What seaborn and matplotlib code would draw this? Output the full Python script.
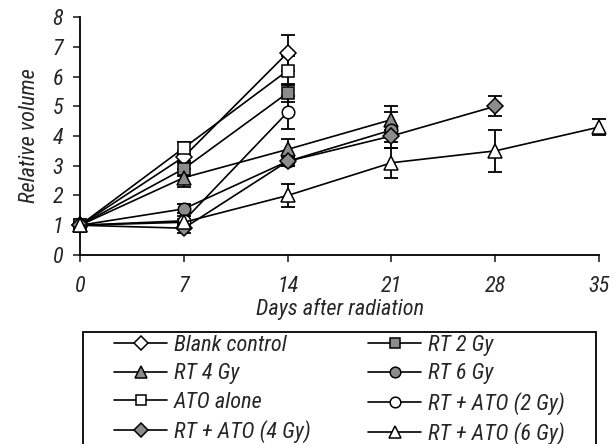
import numpy as np
import pandas as pd
from matplotlib import pyplot as plt
from matplotlib.patches import Rectangle
import seaborn as sns

# 数据：各组肿瘤相对体积（均值与误差）
labels = ['Blank control', 'RT 2 Gy', 'RT 4 Gy', 'RT 6 Gy',
          'ATO alone', 'RT + ATO (2 Gy)', 'RT + ATO (4 Gy)', 'RT + ATO (6 Gy)']
days = [
    [0, 7, 14],
    [0, 7, 14],
    [0, 7, 14, 21],
    [0, 7, 14, 21],
    [0, 7, 14],
    [0, 7, 14],
    [0, 7, 14, 21, 28],
    [0, 7, 14, 21, 28, 35],
]
values = [
    [1, 3.3, 6.8],
    [1, 2.9, 5.45],
    [1, 2.6, 3.55, 4.55],
    [1, 1.55, 3.15, 4.2],
    [1, 3.6, 6.2],
    [1, 1.15, 4.8],
    [1, 0.9, 3.15, 4.0, 5.0],
    [1, 1.1, 2.0, 3.1, 3.5, 4.3],
]
errors = [
    [0.05, 0.2, 0.6],
    [0.05, 0.25, 0.3],
    [0.05, 0.3, 0.35, 0.45],
    [0.05, 0.15, 0.15, 0.6],
    [0.05, 0.2, 0.5],
    [0.05, 0.15, 0.55],
    [0.05, 0.15, 0.15, 0.2, 0.33],
    [0.05, 0.1, 0.4, 0.5, 0.7, 0.27],
]
markers = ['D', 's', '^', 'o', 's', 'o', 'D', '^']
fills = ['white', '#8c8c8c', '#8c8c8c', '#8c8c8c', 'white', 'white', '#8c8c8c', 'white']
sizes = [8, 8.5, 9.5, 9, 9, 9, 8, 10]

sns.set_style('ticks')
plt.rcParams['font.family'] = ['Roboto Condensed', 'DejaVu Sans']
plt.rcParams['font.style'] = 'italic'

fig = plt.figure(figsize=(6.12, 4.44), dpi=100)
ax = fig.add_axes([0.1307, 0.4257, 0.8483, 0.536])

handles = {}
for i, lab in enumerate(labels):
    df = pd.DataFrame({'day': days[i], 'vol': values[i]})
    eb = ax.errorbar(df['day'], df['vol'], yerr=errors[i], fmt='none', ecolor='black',
                     elinewidth=1.3, capsize=5, capthick=1.3, zorder=2)
    for art in eb.lines[1] + eb.lines[2]:
        art.set_clip_on(False)
    sns.lineplot(data=df, x='day', y='vol', ax=ax, color='black', lw=1.2,
                 marker=markers[i], markersize=sizes[i], markerfacecolor=fills[i],
                 markeredgecolor='black', markeredgewidth=1.1, zorder=3 + i,
                 label=lab, legend=False, clip_on=False)
    handles[lab] = ax.lines[-1]

ax.set_xlim(0, 35)
ax.set_ylim(0, 8)
ax.set_xticks(range(0, 36, 7))
ax.set_yticks(range(0, 9))
ax.tick_params(labelsize=16, length=5, width=1.2, direction='out')
ax.tick_params(axis='x', pad=10)
ax.tick_params(axis='y', pad=7)
for s in ['left', 'bottom']:
    ax.spines[s].set_linewidth(1.3)
    ax.spines[s].set_color('black')
sns.despine(ax=ax)
ax.set_xlabel('Days after radiation', fontsize=16, labelpad=1)
ax.set_ylabel('Relative volume', fontsize=16, labelpad=9)

# 图例：两列分开放置，外框单独画
col1 = ['Blank control', 'RT 4 Gy', 'ATO alone', 'RT + ATO (4 Gy)']
col2 = ['RT 2 Gy', 'RT 6 Gy', 'RT + ATO (2 Gy)', 'RT + ATO (6 Gy)']
for names, x0 in [(col1, 114), (col2, 368)]:
    fig.legend([handles[k] for k in names], names, loc='upper left',
               bbox_to_anchor=(x0 / 612, 1 - 335 / 444), bbox_transform=fig.transFigure,
               borderaxespad=0, borderpad=0, frameon=False, fontsize=16,
               handlelength=2.4, handletextpad=0.3, labelspacing=0.33, markerscale=0.85)
fig.patches.append(Rectangle((83 / 612, -0.05), (596 - 83) / 612, 0.05 + 1 - 332 / 444,
                             transform=fig.transFigure, fill=False, lw=1.3,
                             edgecolor='black', clip_on=False))

plt.savefig('out.png', dpi=100)
